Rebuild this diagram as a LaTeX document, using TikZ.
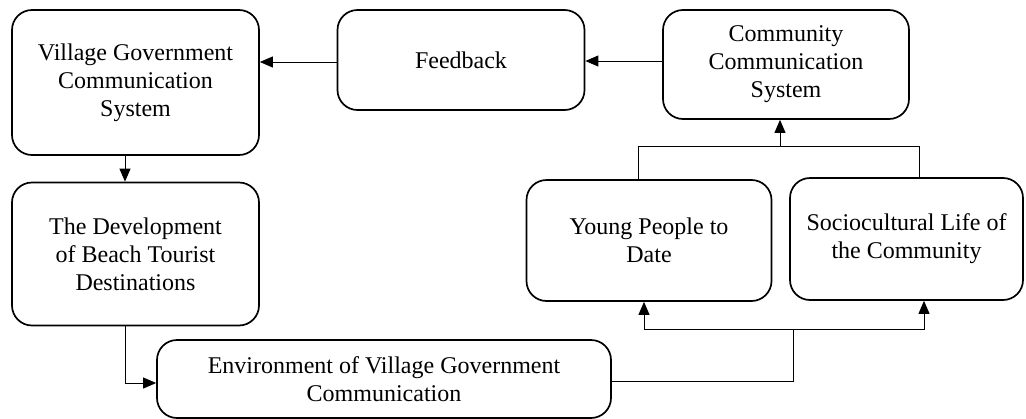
\documentclass[tikz,border=0pt]{standalone}
\usepackage{fontspec}
\setmainfont{Liberation Serif}
\usetikzlibrary{arrows.meta}
\begin{document}
\begin{tikzpicture}[x=1pt,y=-1pt,
  box/.style={draw,line width=1.7pt,rounded corners=20pt,align=center,inner sep=0pt,
    font=\fontsize{24}{28}\selectfont},
  conn/.style={line width=0.9pt,-{Triangle[length=13pt,width=11pt]}},
  plain/.style={line width=0.9pt}]
\useasboundingbox (0,0) rectangle (1026,418);
\node[box,minimum width=247pt,minimum height=145pt] (vgcs) at (135.5,82.5) {Village Government\\Communication\\System};
\node[box,minimum width=247pt,minimum height=100pt] (fb) at (461,60) {Feedback};
\node[box,minimum width=246pt,minimum height=109pt] (ccs) at (786,64.5) {Community\\Communication\\System};
\node[box,minimum width=247pt,minimum height=143pt] (dev) at (135.5,254) {The Development\\of Beach Tourist\\Destinations};
\node[box,minimum width=245pt,minimum height=121pt] (yp) at (649,240.5) {Young People to\\Date};
\node[box,minimum width=233pt,minimum height=122pt] (soc) at (906.5,239) {Sociocultural Life of\\the Community};
\node[box,minimum width=454pt,minimum height=78pt] (env) at (384,379) {Environment of Village Government\\Communication};
\coordinate (h1) at (0,61);
\coordinate (h2) at (0,62);
\draw[conn] (ccs.west |- h1) -- (fb.east |- h1);
\draw[conn] (fb.west |- h2) -- (vgcs.east |- h2);
\draw[conn] (vgcs.south -| 125,0) -- (dev.north -| 125,0);
\coordinate (d1) at (125,383);
\draw[conn] (dev.south -| d1) -- (d1) -- (env.west |- d1);
\coordinate (t0) at (780,146);
\coordinate (tl) at (638,146);
\coordinate (tr) at (919,146);
\draw[plain] (yp.north -| tl) -- (tl) -- (tr) -- (soc.north -| tr);
\draw[conn] (t0) -- (ccs.south -| t0);
\coordinate (e1) at (793,381);
\coordinate (bl) at (644,329);
\coordinate (br) at (924,329);
\draw[plain] (env.east |- e1) -- (e1) -- (793,329);
\draw[conn] (793,329) -- (bl) -- (yp.south -| bl);
\draw[conn] (793,329) -- (br) -- (soc.south -| br);
\end{tikzpicture}
\end{document}
